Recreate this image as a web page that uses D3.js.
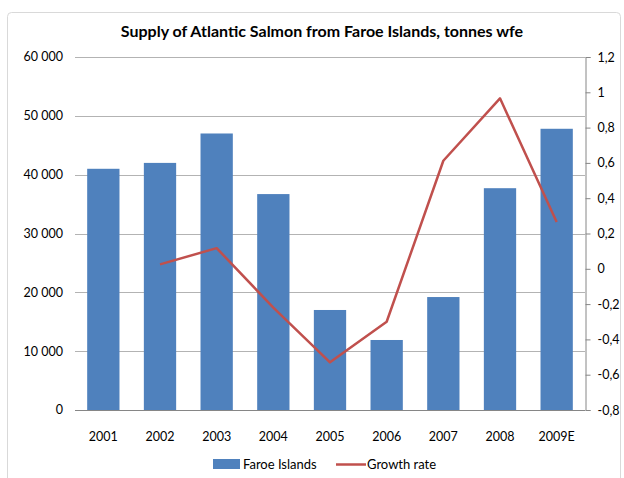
<!DOCTYPE html>
<html>
<head>
<meta charset="utf-8">
<script src="https://cdn.jsdelivr.net/npm/d3@7"></script>
<style>
  body { margin: 0; background: #fff; }
  svg text { font-family: Lato, "Open Sans", sans-serif; fill: #000; }
</style>
</head>
<body>
<div id="chart"></div>
<script>
const years = ["2001", "2002", "2003", "2004", "2005", "2006", "2007", "2008", "2009E"];
const supply = [41000, 42000, 47000, 36700, 17000, 11900, 19200, 37700, 47800];
const growth = [null, 0.025, 0.117, -0.22, -0.53, -0.30, 0.612, 0.966, 0.265];
const leftTicks = [0, 10000, 20000, 30000, 40000, 50000, 60000];
const rightTicks = [-0.8, -0.6, -0.4, -0.2, 0, 0.2, 0.4, 0.6, 0.8, 1, 1.2];

const W = 624, H = 478;
const m = { left: 75, right: 39, top: 57, bottom: 68 };

const svg = d3.select("#chart").append("svg")
  .attr("width", W)
  .attr("height", H);

svg.append("rect")
  .attr("x", 7.5).attr("y", 12.5)
  .attr("width", 613).attr("height", 480)
  .attr("rx", 4)
  .attr("fill", "#fff")
  .attr("stroke", "#d9d9d9");

svg.append("text")
  .attr("x", 322).attr("y", 37)
  .attr("text-anchor", "middle")
  .style("font-size", "16px")
  .style("font-weight", "bold")
  .text("Supply of Atlantic Salmon from Faroe Islands, tonnes wfe");

const x = d3.scaleBand().domain(years).range([m.left, W - m.right]).paddingInner(0.43).paddingOuter(0.215);
const y = d3.scaleLinear().domain([0, 60000]).range([H - m.bottom, m.top]);
const y2 = d3.scaleLinear().domain([-0.8, 1.2]).range([H - m.bottom, m.top]);

const fmtLeft = d => d3.format(",")(d).replace(/,/g, " ");
const fmtRight = d => String(+d.toFixed(1)).replace(".", ",");

// gridlines
svg.append("g")
  .selectAll("line")
  .data(leftTicks)
  .join("line")
  .attr("x1", m.left).attr("x2", W - m.right)
  .attr("y1", d => Math.round(y(d)) + 0.5).attr("y2", d => Math.round(y(d)) + 0.5)
  .attr("stroke", d => d === 0 ? "#868686" : "#b3b3b3");

// left labels
svg.append("g")
  .selectAll("text")
  .data(leftTicks)
  .join("text")
  .attr("x", 63).attr("y", d => y(d))
  .attr("dy", "0.35em")
  .attr("text-anchor", "end")
  .style("font-size", "12.5px")
  .text(fmtLeft);

// bars
svg.append("g")
  .selectAll("rect")
  .data(supply)
  .join("rect")
  .attr("x", (d, i) => x(years[i]))
  .attr("y", d => y(d))
  .attr("width", x.bandwidth())
  .attr("height", d => y(0) - y(d))
  .attr("fill", "#4f81bd");

// right axis
const rAxis = d3.axisRight(y2).tickValues(rightTicks).tickFormat(fmtRight).tickSize(5).tickPadding(7);
const rg = svg.append("g")
  .attr("transform", `translate(${W - m.right + 0.5},0)`)
  .call(rAxis);
rg.select(".domain").attr("stroke", "#868686");
rg.selectAll(".tick line").attr("stroke", "#868686");
rg.selectAll(".tick text").style("font-size", "12.5px").attr("fill", "#000")
  .style("font-family", "Lato, 'Open Sans', sans-serif");

// x labels
svg.append("g")
  .selectAll("text")
  .data(years)
  .join("text")
  .attr("x", d => x(d) + x.bandwidth() / 2)
  .attr("y", 441)
  .attr("text-anchor", "middle")
  .style("font-size", "12.5px")
  .text(d => d);

// growth line
const line = d3.line()
  .defined(d => d != null)
  .x((d, i) => x(years[i]) + x.bandwidth() / 2)
  .y(d => y2(d));
svg.append("path")
  .datum(growth)
  .attr("d", line)
  .attr("fill", "none")
  .attr("stroke", "#c0504d")
  .attr("stroke-width", 2.5)
  .attr("stroke-linejoin", "round");

// legend
const lg = svg.append("g");
lg.append("rect").attr("x", 213).attr("y", 459).attr("width", 27).attr("height", 10).attr("fill", "#4f81bd");
lg.append("text").attr("x", 243).attr("y", 469).style("font-size", "13px").text("Faroe Islands");
lg.append("line").attr("x1", 336).attr("x2", 366).attr("y1", 464.5).attr("y2", 464.5)
  .attr("stroke", "#c0504d").attr("stroke-width", 2.5);
lg.append("text").attr("x", 367).attr("y", 469).style("font-size", "13px").text("Growth rate");
</script>
</body>
</html>
